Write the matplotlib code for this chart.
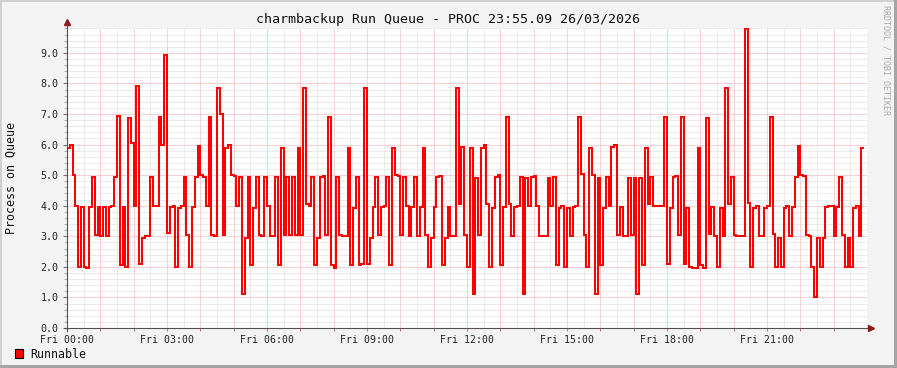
import numpy as np
import matplotlib
matplotlib.use("Agg")
import matplotlib.pyplot as plt
from matplotlib.patches import Rectangle

plt.rcParams["font.family"] = ["DejaVu Sans Mono", "DejaVu Sans"]

# run queue samples, one every 5 minutes, grouped by 3 hour block
step_min = 5
prev_value = 3.0  # 23:55 the day before
block_00 = [5.9, 6.0, 5.0, 4.0, 2.0, 3.95, 2.0, 1.95, 3.95, 4.95,
            3.05, 3.95, 3.0, 3.95, 3.0, 3.95, 4.0, 4.95, 6.95, 2.05,
            3.95, 2.0, 6.87, 6.05, 4.0, 7.9, 2.1, 2.95, 3.0, 3.0,
            4.95, 4.0, 4.0, 6.9, 6.0, 8.93]
block_03 = [3.1, 3.95, 4.0, 2.0, 3.93, 4.0, 4.95, 3.05, 2.0, 3.95,
            4.95, 5.95, 5.0, 4.95, 4.0, 6.9, 3.05, 3.0, 7.85, 7.0,
            3.05, 5.9, 6.0, 5.0, 4.97, 4.0, 4.95, 1.1, 2.93, 4.95,
            2.05, 3.93, 4.95, 3.05, 3.0, 4.95]
block_06 = [4.0, 3.0, 3.0, 4.95, 2.05, 5.9, 3.05, 4.95, 3.05, 4.95,
            3.05, 5.9, 3.05, 7.85, 4.05, 4.0, 4.95, 2.05, 2.95, 4.95,
            4.98, 3.05, 6.9, 2.05, 1.95, 4.95, 3.05, 3.0, 3.0, 5.9,
            2.05, 3.93, 4.95, 2.05, 2.1, 7.85]
block_09 = [2.1, 2.95, 3.95, 4.95, 3.05, 3.95, 4.0, 4.95, 2.05, 5.9,
            5.0, 4.98, 3.05, 4.95, 4.0, 3.0, 3.95, 4.95, 3.0, 3.95,
            5.9, 3.05, 2.0, 2.95, 3.95, 4.95, 4.97, 2.05, 2.93, 3.95,
            3.0, 3.0, 7.85, 4.05, 5.93, 3.05]
block_12 = [2.0, 5.88, 1.1, 4.9, 3.05, 5.9, 6.0, 4.05, 2.0, 3.93,
            4.95, 5.0, 2.05, 3.95, 6.9, 4.05, 3.0, 3.95, 4.0, 4.95,
            1.1, 4.9, 4.0, 4.95, 4.97, 4.0, 3.0, 3.0, 3.0, 4.92,
            4.0, 4.95, 2.05, 3.93, 4.0, 2.0]
block_15 = [3.93, 3.0, 3.95, 4.0, 6.9, 5.03, 3.05, 2.0, 5.88, 5.0,
            1.1, 4.9, 2.05, 3.93, 4.95, 4.0, 5.93, 6.0, 3.05, 3.95,
            3.0, 3.0, 4.92, 3.05, 4.92, 1.1, 4.9, 2.05, 5.88, 4.05,
            4.95, 4.0, 4.0, 4.0, 4.0, 6.9]
block_18 = [2.1, 3.93, 4.95, 4.97, 3.05, 6.9, 2.1, 3.93, 2.0, 1.95,
            1.95, 5.88, 2.05, 1.95, 6.87, 3.07, 3.95, 3.0, 2.0, 3.93,
            3.0, 7.85, 4.05, 4.95, 3.05, 3.0, 3.0, 3.0, 9.78, 4.1,
            2.0, 3.93, 4.0, 3.0, 3.0, 3.93]
block_21 = [4.0, 6.9, 3.07, 2.0, 2.95, 2.0, 3.93, 4.0, 3.0, 3.95,
            4.95, 5.95, 5.0, 4.97, 3.05, 3.0, 2.0, 1.03, 2.93, 2.0,
            2.95, 3.95, 4.0, 4.0, 3.0, 3.95, 4.95, 3.05, 2.0, 2.95,
            2.0, 3.93, 4.0, 3.0, 5.9]

x_labels = ["Fri 00:00", "Fri 03:00", "Fri 06:00", "Fri 09:00",
            "Fri 12:00", "Fri 15:00", "Fri 18:00", "Fri 21:00"]

runnable = ([prev_value] + block_00 + block_03 + block_06 + block_09
            + block_12 + block_15 + block_18 + block_21)
edges = (np.arange(len(runnable) + 1) - 1) * step_min / 60.0

W, H = 897, 368
fig = plt.figure(figsize=(W / 100, H / 100), dpi=100, facecolor="#F3F3F3")
ax = fig.add_axes([67 / W, 40 / H, 800 / W, 300.5 / H])
ax.set_facecolor("white")
ax.set_xlim(0, 24)
ax.set_ylim(0, 9.83)

ax.stairs(runnable, edges, baseline=None, color="#FF0000", lw=1.45, zorder=3)

hours = np.arange(0, 24)
labels = [x_labels[h // 3] if h % 3 == 0 else "" for h in hours]
ax.set_xticks(hours, labels=labels)
ax.set_xticks(np.arange(0.5, 24, 1.0), minor=True)
ax.set_yticks(np.arange(0, 9.1, 1.0))
ax.set_yticklabels([f"{v:.1f}" for v in np.arange(0, 9.1, 1.0)])
ax.set_yticks(np.arange(0.2, 9.83, 0.2), minor=True)

ax.grid(which="minor", color="#D8D8D8", linestyle=(0, (1, 1)), lw=0.72, zorder=1)
ax.grid(which="major", color="#F4A4A4", linestyle=(0, (1, 1)), lw=0.72, zorder=2)
ax.set_axisbelow(True)

ax.tick_params(axis="x", which="major", length=2, color="#E07070", pad=3,
               labelsize=7.1, labelcolor="#222222")
ax.tick_params(axis="x", which="minor", length=0)
ax.tick_params(axis="y", which="major", length=3, color="#707070", pad=3,
               labelsize=7.2, labelcolor="#222222")
ax.tick_params(axis="y", which="minor", length=2, color="#A0A0A0")

for s in ax.spines.values():
    s.set_visible(False)

# rrdtool style axes with arrow heads
ax.plot([-3 / 800, 1 + 3 / 800], [0, 0], transform=ax.transAxes,
        color="#505050", lw=0.8, clip_on=False, zorder=5)
ax.plot([0, 0], [-3 / 300.5, 1 + 4 / 300.5], transform=ax.transAxes,
        color="#505050", lw=0.8, clip_on=False, zorder=5)
ax.plot([1 + 4 / 800], [0], marker=">", ms=4, color="#8B1A1A",
        transform=ax.transAxes, clip_on=False, zorder=6)
ax.plot([0], [1 + 6 / 300.5], marker="^", ms=4, color="#8B1A1A",
        transform=ax.transAxes, clip_on=False, zorder=6)

fig.text(448 / W, 1 - 19 / H, "charmbackup Run Queue - PROC 23:55.09 26/03/2026",
         ha="center", va="center", fontsize=9.6, color="#111111")
fig.text(11 / W, 1 - 178 / H, "Process on Queue", rotation=90,
         ha="center", va="center", fontsize=8.4, color="#111111")
fig.text(886 / W, 1 - 5 / H, "RRDTOOL / TOBI OETIKER", rotation=-90,
         ha="center", va="top", fontsize=6, color="#AAAAAA")

fig.patches.append(Rectangle((15 / W, 1 - 358 / H), 8 / W, 9 / H,
                             transform=fig.transFigure, facecolor="#FF0000",
                             edgecolor="black", lw=0.8))
fig.text(30 / W, 1 - 354 / H, "Runnable", ha="left", va="center",
         fontsize=8.4, color="#111111")

# bevelled frame
fig.patches.append(Rectangle((0, 1 - 2 / H), 1, 2 / H, transform=fig.transFigure,
                             facecolor="#D0D0D0", edgecolor="none"))
fig.patches.append(Rectangle((0, 0), 2 / W, 1, transform=fig.transFigure,
                             facecolor="#D0D0D0", edgecolor="none"))
fig.patches.append(Rectangle((0, 0), 1, 3 / H, transform=fig.transFigure,
                             facecolor="#A4A4A4", edgecolor="none"))
fig.patches.append(Rectangle((1 - 3 / W, 0), 3 / W, 1, transform=fig.transFigure,
                             facecolor="#A4A4A4", edgecolor="none"))

fig.savefig("out.png", dpi=100, facecolor=fig.get_facecolor())
